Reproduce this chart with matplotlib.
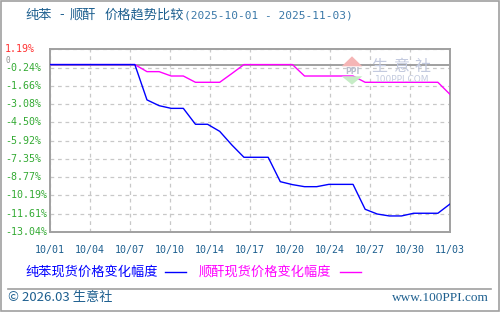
import matplotlib
matplotlib.use("Agg")
import matplotlib.pyplot as plt
from matplotlib.patches import Rectangle, Polygon
from matplotlib.lines import Line2D
import numpy as np

plt.rcParams['font.family'] = ['Noto Sans CJK SC', 'DejaVu Sans']

# daily values, 2025-10-01 .. 2025-11-03 (34 days)
days = list(range(34))
benzene = [0, 0, 0, 0, 0, 0, 0, 0, -2.75, -3.2, -3.41, -3.41, -4.65, -4.65,
           -5.2, -6.26, -7.22, -7.22, -7.22, -9.12, -9.35, -9.51, -9.51, -9.33,
           -9.33, -9.33, -11.27, -11.64, -11.79, -11.79, -11.58, -11.58, -11.58,
           -10.86]
maleic = [0, 0, 0, 0, 0, 0, 0, 0, -0.55, -0.55, -0.89, -0.89, -1.38, -1.38,
          -1.38, -0.7, 0, 0, 0, 0, 0, -0.89, -0.89, -0.89, -0.89, -0.89,
          -1.38, -1.38, -1.38, -1.38, -1.38, -1.38, -1.38, -2.32]

x_labels = ['10/01', '10/04', '10/07', '10/10', '10/14', '10/17',
            '10/20', '10/24', '10/27', '10/30', '11/03']
y_top, y_bottom = 1.19, -13.04
y_labels = ['1.19%', '-0.24%', '-1.66%', '-3.08%', '-4.50%', '-5.92%',
            '-7.35%', '-8.77%', '-10.19%', '-11.61%', '-13.04%']

W, H = 500, 312
fig = plt.figure(figsize=(5, 3.12), dpi=100)


def px(x, y):
    return (x / W, 1 - y / H)


# outer frame
fig.patches.append(Rectangle((0.002, 0.003), 0.995, 0.994, transform=fig.transFigure,
                             fill=False, edgecolor='#a0a0a0', lw=1.2))

ax = fig.add_axes([50 / W, 1 - 232 / H, 400 / W, (232 - 49.3) / H])
ax.set_xlim(0, 33)
ax.set_ylim(y_bottom, y_top)

yt = np.linspace(y_top, y_bottom, len(y_labels))
xt = np.linspace(0, 33, len(x_labels))
ax.set_yticks(yt)
ax.set_xticks(xt)
ax.set_yticklabels([])
ax.set_xticklabels(x_labels, family='DejaVu Sans Mono', fontsize=7.2, color='#1d5f8f')
ax.tick_params(length=0, pad=9)
ax.grid(True, color='#c8c8c8', linestyle=(0, (3, 3)), lw=0.9)
for s in ax.spines.values():
    s.set_color('#a0a0a0')
    s.set_linewidth(1.4)

ax.axhline(0, color='#a0a0a0', lw=1.4, zorder=2)

for v, lab in zip(yt, y_labels):
    col = '#ff3333' if not lab.startswith('-') else '#33aa33'
    ax.text(-45 / 400, v, lab, transform=ax.get_yaxis_transform(), ha='left',
            va='center', family='DejaVu Sans Mono', fontsize=7.2, color=col, clip_on=False)
ax.text(-45 / 400, 0.3, '0', transform=ax.get_yaxis_transform(), ha='left', va='center',
        family='DejaVu Sans Mono', fontsize=5.5, color='#909090', clip_on=False)

# watermark
fig.patches.append(Polygon([px(341.7, 66.3), px(362.3, 66.3), px(352, 56.3)], closed=True,
                           transform=fig.transFigure, facecolor='#f5b5b5', edgecolor='none'))
fig.patches.append(Polygon([px(341.7, 76.3), px(362.3, 76.3), px(352, 84.7)], closed=True,
                           transform=fig.transFigure, facecolor='#c6ecc6', edgecolor='none'))
fig.text(*px(352, 71.3), 'PPI', ha='center', va='center', fontsize=5.5, color='#b8bccc',
         family='DejaVu Sans', weight='bold')
for cx, ch in zip([379, 401, 423], ['生', '意', '社']):
    fig.text(*px(cx, 66), ch, ha='center', va='center', fontsize=11.5, color='#c3cadf')
fig.text(*px(402, 80), '100PPI.COM', ha='center', va='center', fontsize=6.5,
         color='#c3cadf', family='DejaVu Sans')

ax.plot(days, maleic, color='#ff00ff', lw=1.0, zorder=3)
ax.plot(days, benzene, color='#0000ff', lw=1.0, zorder=4)

# title
title_col = '#1d5f8f'
fig.text(*px(25, 15), '纯苯', ha='left', va='center', fontsize=9.5, color=title_col)
fig.text(*px(62, 15), '-', ha='center', va='center', fontsize=9.5, color=title_col)
fig.text(*px(70, 15), '顺酐', ha='left', va='center', fontsize=9.5, color=title_col)
fig.text(*px(105, 15), '价格趋势比较', ha='left', va='center', fontsize=9.5, color=title_col)
fig.text(*px(184, 15), '(2025-10-01 - 2025-11-03)', ha='left', va='center',
         fontsize=8, color='#3a78a8', family='DejaVu Sans Mono')

# legend
fig.text(*px(25, 272), '纯苯现货价格变化幅度', ha='left', va='center', fontsize=9.5, color='#0000ff')
fig.add_artist(Line2D([165 / W, 186 / W], [1 - 272 / H] * 2, color='#0000ff', lw=1.0))
fig.text(*px(199, 272), '顺酐现货价格变化幅度', ha='left', va='center', fontsize=9.5, color='#ff00ff')
fig.add_artist(Line2D([340 / W, 361 / W], [1 - 272 / H] * 2, color='#ff00ff', lw=1.0))

# footer
fig.add_artist(Line2D([8 / W, 491 / W], [1 - 288.5 / H] * 2, color='#a0a0a0', lw=1.2))
fig.text(*px(8, 298), '© 2026.03 生意社', ha='left', va='center', fontsize=9.5, color='#1d5f8f')
fig.text(*px(489, 298), 'www.100PPI.com', ha='right', va='center', fontsize=9.5,
         color='#1d5f8f', family='Liberation Serif')

fig.savefig('out.png', dpi=100)
